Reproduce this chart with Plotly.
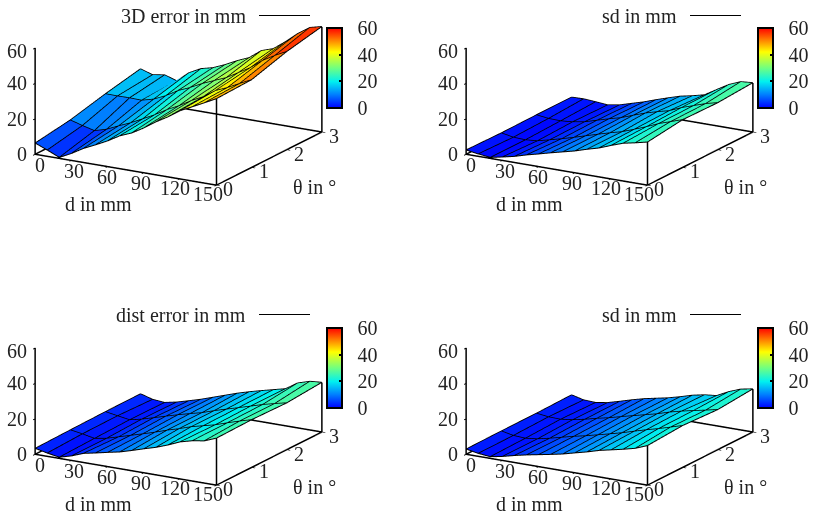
import numpy as np
import plotly.graph_objects as go

W, H = 817, 514

d_values = [0, 10, 20, 30, 40, 50, 60, 70, 80, 90, 100, 110, 120, 130, 140, 150]
theta_values = [0, 1, 2, 3]

titles = ["3D error in mm", "sd in mm", "dist error in mm", "sd in mm"]

err3d_t0 = [6.2, 3.4, 0.4, 3.8, 7.8, 11, 14.4, 18.4, 21.2, 25.2, 29.8, 33.8, 38.4, 41.8, 45.2, 48.7]
err3d_t1 = [9.2, 7.2, 5.5, 7.4, 10.5, 13.4, 16.8, 20.3, 24.3, 27.7, 31.7, 35.1, 39.7, 42.6, 46, 49.4]
err3d_t2 = [14, 13.9, 14, 13.8, 15.6, 18.7, 22.7, 25.6, 29, 31.9, 34.7, 38.7, 42.7, 47.9, 51.8, 55.3]
err3d_t3 = [18.1, 15.9, 17, 14.8, 20.5, 24, 25.7, 28.6, 32, 34.9, 40, 42.3, 47.4, 53.1, 57.7, 59.4]

sd1_t0 = [2.3, 1.2, 0.4, 1.8, 3.3, 5.3, 7, 8.8, 10.5, 12.2, 14.3, 16.2, 18.8, 21.2, 22.6, 24.2]
sd1_t1 = [1.9, 0.6, 0.3, 0.9, 2.6, 4.4, 6.3, 8.4, 10.4, 12.4, 14.2, 16.7, 19.3, 22.2, 24.5, 26.8]
sd1_t2 = [2.1, 1.2, 1, 1.6, 2.8, 4.8, 6.8, 8.6, 11.1, 13.5, 15.5, 17.2, 20.1, 22.4, 24.7, 26.4]
sd1_t3 = [2.1, 2.3, 1.8, 1.2, 2.4, 4.4, 6.4, 8.8, 11, 13.1, 14.5, 16.2, 20.3, 24.3, 27.1, 27.7]

dist_t0 = [3.2, 1.7, 0.5, 2.4, 5, 6.4, 7.9, 9.3, 11.3, 13.4, 15.4, 17.9, 20.8, 22.6, 23.7, 26.4]
dist_t1 = [3.6, 2.5, 1.1, 2.3, 4.3, 6.3, 8.3, 10.4, 12.7, 14.7, 17, 18.7, 20.4, 22.7, 24.8, 26.8]
dist_t2 = [3.9, 2.7, 1.6, 3.1, 5.1, 7.1, 9.1, 10.9, 12.6, 14.9, 16.9, 18.9, 20.9, 23, 24.7, 26.3]
dist_t3 = [4, 2, 1.4, 2.8, 4.7, 6.7, 9, 11.3, 13.6, 15.6, 17.4, 19.1, 20.8, 25.2, 27.3, 27.9]

sd2_t0 = [2.8, 1.5, 0.8, 2.1, 3.8, 5.3, 6.6, 7.9, 9.3, 11.1, 12.8, 14.8, 16.3, 17.8, 19.5, 22.2]
sd2_t1 = [3, 1.6, 1.2, 2, 3.5, 5.2, 6.9, 8.4, 10.1, 11.8, 13.6, 15.6, 17.6, 19.4, 21.4, 23.5]
sd2_t2 = [3, 2.1, 1.9, 2.8, 4.2, 5.9, 7.4, 9.2, 10.9, 12.6, 14.3, 16.4, 18.1, 19.6, 21, 22.5]
sd2_t3 = [3.4, 1.7, 1.4, 2.5, 4.4, 6.4, 8.2, 9.6, 11, 12.8, 14.8, 16.2, 16.9, 20.3, 22.9, 24.2]

panels = [
    [err3d_t0, err3d_t1, err3d_t2, err3d_t3],
    [sd1_t0, sd1_t1, sd1_t2, sd1_t3],
    [dist_t0, dist_t1, dist_t2, dist_t3],
    [sd2_t0, sd2_t1, sd2_t2, sd2_t3],
]

d_ticks = [0, 30, 60, 90, 120, 150]
theta_ticks = [0, 1, 2, 3]
z_ticks = [0, 20, 40, 60]

colorscale = [
    [0.0, "#0000ff"], [0.17, "#0080ff"], [0.33, "#00f0f0"], [0.5, "#70ff80"],
    [0.7, "#ffff00"], [0.85, "#ff8000"], [1.0, "#ff0000"],
]

FONT = "Liberation Serif"
FS = 20
TXT = dict(family=FONT, size=FS, color="#222")
R = 1.7
SCENE_H = 200
SCALE = 2.33 * 180 / SCENE_H
CZ = -0.1046
eye = dict(x=0.4804 * R, y=-0.8266 * R, z=0.2932 * R + CZ)

# page pixel offsets of each panel
offsets = [(0, 0), (431, 0), (0, 300), (431, 300)]

fig = go.Figure()
layout_extra = {}
annots_paper = []
shapes = []

for i, (rows, (ox, oy)) in enumerate(zip(panels, offsets)):
    sid = "scene" if i == 0 else f"scene{i+1}"
    Z = np.array(rows, dtype=float)
    nt, nd = Z.shape
    D, T = np.meshgrid(d_values, theta_values)
    idx = np.arange(nt * nd).reshape(nt, nd)
    I, J, K, cell = [], [], [], []
    for a in range(nt - 1):
        for b in range(nd - 1):
            m = Z[a:a + 2, b:b + 2].mean()
            p, q, r, s = idx[a, b], idx[a, b + 1], idx[a + 1, b + 1], idx[a + 1, b]
            I += [p, p]; J += [q, r]; K += [r, s]
            cell += [m, m]
    fig.add_trace(go.Mesh3d(
        x=D.ravel(), y=T.ravel(), z=Z.ravel(), i=I, j=J, k=K,
        intensity=cell, intensitymode="cell", colorscale=colorscale, cmin=0, cmax=60,
        flatshading=True,
        lighting=dict(ambient=1, diffuse=0, specular=0, roughness=1, fresnel=0),
        hoverinfo="skip", scene=sid, showscale=True,
        colorbar=dict(
            x=(327 + ox) / W, xanchor="left", y=1 - (68 + oy) / H, yanchor="middle",
            thicknessmode="pixels", thickness=15, lenmode="pixels", len=80,
            outlinecolor="black", outlinewidth=2, xpad=0, ypad=0,
            tickmode="linear", tick0=0, dtick=20, ticks="inside", ticklen=4,
            tickcolor="black", tickwidth=1.5,
            tickprefix="\u00a0\u00a0", tickfont=TXT,
        ),
    ))
    # mesh lines
    lx, ly, lz = [], [], []
    for a in range(nt):
        lx += list(D[a]) + [None]; ly += list(T[a]) + [None]; lz += list(Z[a] + 0.15) + [None]
    for b in range(nd):
        lx += list(D[:, b]) + [None]; ly += list(T[:, b]) + [None]; lz += list(Z[:, b] + 0.15) + [None]
    fig.add_trace(go.Scatter3d(x=lx, y=ly, z=lz, mode="lines", line=dict(color="black", width=2),
                               hoverinfo="skip", showlegend=False, scene=sid))
    # frame: base rectangle and corner verticals
    fx = [0, 150, 150, 0, 0, None, 150, 150, None, 150, 150]
    fy = [0, 0, 3, 3, 0, None, 0, 0, None, 3, 3]
    fz = [0, 0, 0, 0, 0, None, 0, Z[0, -1], None, 0, Z[-1, -1]]
    fig.add_trace(go.Scatter3d(x=fx, y=fy, z=fz, mode="lines", line=dict(color="black", width=3),
                               hoverinfo="skip", showlegend=False, scene=sid))

    sc_ann = []
    for v in d_ticks:
        sc_ann.append(dict(x=v, y=0, z=0, text=str(v), showarrow=False, xshift=5 - 13 * v / 150,
                           yshift=-(11 - 2 * v / 150), font=TXT))
    for v in theta_ticks:
        sc_ann.append(dict(x=150, y=v, z=0, text=str(v), showarrow=False, xshift=12, yshift=-4, font=TXT))
    for v in z_ticks:
        sc_ann.append(dict(x=0, y=0, z=v, text=str(v), showarrow=False, xanchor="right", xshift=-6,
                           yshift=-3 if v == 60 else 0, font=TXT))
    sc_ann.append(dict(x=75, y=0, z=0, text="d in mm", showarrow=False, xshift=-27, yshift=-34.5, font=TXT))
    sc_ann.append(dict(x=150, y=1.5, z=0, text="\u03b8 in \u00b0", showarrow=False, xshift=45.5, yshift=-28.5, font=TXT))

    ax = dict(showbackground=False, showgrid=False, zeroline=False, showspikes=False,
              showticklabels=False, showline=False, title=dict(text=""),
              ticks="inside", ticklen=4, tickwidth=2, tickcolor="black")
    layout_extra[sid] = dict(
        domain=dict(x=[ox / W, (357 + ox) / W], y=[1 - (SCENE_H + oy) / H, 1 - oy / H]),
        camera=dict(eye=eye, center=dict(x=0, y=0, z=CZ), up=dict(x=0, y=0, z=1),
                    projection=dict(type="orthographic")),
        aspectmode="manual", aspectratio=dict(x=SCALE, y=SCALE, z=0.53 * SCALE),
        xaxis=dict(ax, range=[0, 150], tickvals=d_ticks),
        yaxis=dict(ax, range=[0, 3], tickvals=theta_ticks),
        zaxis=dict(ax, range=[0, 60], tickvals=z_ticks, showline=True, linecolor="black", linewidth=3),
        annotations=sc_ann,
    )
    # key: title text and sample line
    key_y = 15.5 - (1 if oy else 0) + oy
    annots_paper.append(dict(xref="paper", yref="paper", x=(248 + ox) / W, y=1 - key_y / H,
                             xanchor="right", yanchor="middle", text=titles[i], showarrow=False, font=TXT))
    ky = 1 - key_y / H
    shapes.append(dict(type="line", xref="paper", yref="paper", x0=(259 + ox) / W, x1=(310 + ox) / W,
                       y0=ky, y1=ky, line=dict(color="black", width=1)))

fig.update_layout(width=W, height=H, margin=dict(l=0, r=0, t=0, b=0), paper_bgcolor="white",
                  showlegend=False, annotations=annots_paper, shapes=shapes, **layout_extra)
fig.write_html("out.html", config={"displayModeBar": False},
               post_script="document.body.style.margin='0';document.body.style.overflow='hidden';")
